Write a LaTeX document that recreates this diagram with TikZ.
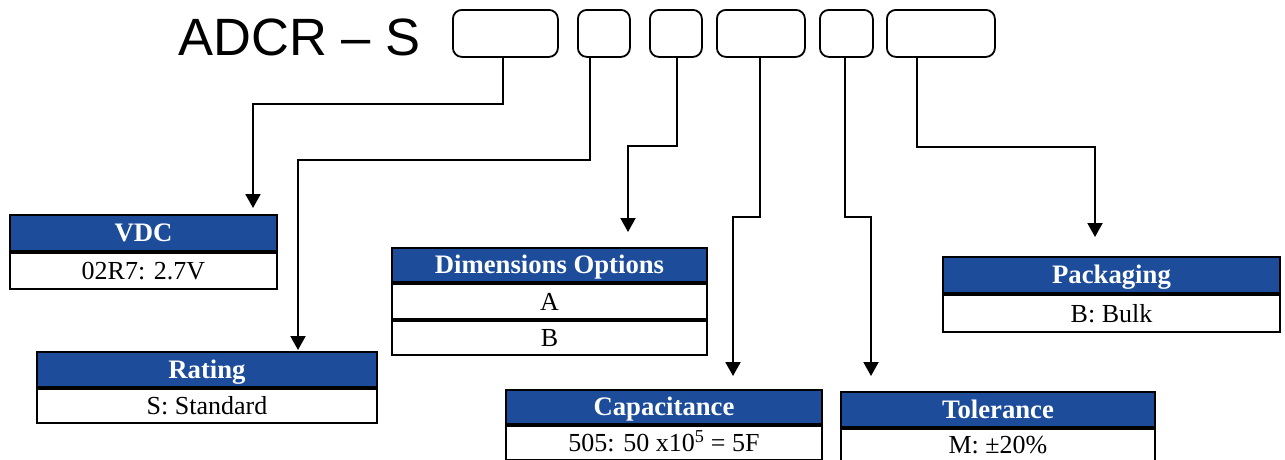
\documentclass[tikz,border=0pt]{standalone}
\usepackage{fontspec}
\setmainfont{Liberation Serif}
\newfontfamily\arialf{Liberation Sans}
\usetikzlibrary{arrows.meta}
\definecolor{hdrblue}{HTML}{1C4C9A}
\begin{document}
\begin{tikzpicture}[x=1pt,y=-1pt,
  hdr/.style={draw=black, line width=2pt, fill=hdrblue, text=white, font=\fontsize{26.7}{30}\selectfont\bfseries, inner sep=0pt, anchor=north west, text height=17pt, text depth=-1pt},
  cell/.style={draw=black, line width=2pt, fill=white, font=\fontsize{26}{30}\selectfont, inner sep=0pt, anchor=north, text height=17pt, text depth=-1pt},
  slot/.style={draw=black, line width=1.8pt, rounded corners=9pt, inner sep=0pt, anchor=north west, minimum height=47pt},
  conn/.style={line width=2pt, -{Triangle[width=15pt,length=14pt]}}]
\useasboundingbox (0,0) rectangle (1285,459);
\clip (0,0) rectangle (1285,459);

% title and slots
\node[anchor=base west, inner sep=0pt, font=\arialf\fontsize{52.5}{60}\selectfont] (title) at (178,55) {ADCR – S};
\node[slot, minimum width=105pt] (b1) at (452,9) {};
\node[slot, minimum width=52pt]  (b2) at (577,9) {};
\node[slot, minimum width=52pt]  (b3) at (649,9) {};
\node[slot, minimum width=88pt]  (b4) at (716,9) {};
\node[slot, minimum width=53pt]  (b5) at (819,9) {};
\node[slot, minimum width=108pt] (b6) at (886,9) {};

% tables
\node[hdr, minimum width=267pt, minimum height=36pt] (vdc) at (9,214) {VDC};
\node[cell, minimum width=267pt, minimum height=36pt] (vdcA) at (vdc.south) {02R7: 2.7V};

\node[hdr, minimum width=340pt, minimum height=35pt] (rat) at (36,351) {Rating};
\node[cell, minimum width=340pt, minimum height=34pt] (ratA) at (rat.south) {S: Standard};

\node[hdr, minimum width=315pt, minimum height=34pt] (dim) at (391,247) {Dimensions Options};
\node[cell, minimum width=315pt, minimum height=35pt] (dimA) at (dim.south) {A};
\node[cell, minimum width=315pt, minimum height=34pt] (dimB) at (dimA.south) {B};

\node[hdr, minimum width=316pt, minimum height=34pt] (cap) at (505,389) {Capacitance};
\node[cell, minimum width=316pt, minimum height=34pt] (capA) at (cap.south) {505: 50 x10\textsuperscript{5} = 5F};

\node[hdr, minimum width=314pt, minimum height=35pt] (tol) at (840,391) {Tolerance};
\node[cell, minimum width=314pt, minimum height=36pt, text height=17pt, text depth=5pt] (tolA) at (tol.south) {M: ±20\%};

\node[hdr, minimum width=337pt, minimum height=36pt] (pack) at (942,256) {Packaging};
\node[cell, minimum width=337pt, minimum height=37pt] (packA) at (pack.south) {B: Bulk};

% bend points
\coordinate (k1) at (253,104);
\coordinate (k2) at (298,160);
\coordinate (k3) at (628,146);
\coordinate (k4) at (733,217);
\coordinate (k5) at (871,217);
\coordinate (k6) at (1095,147);

% connectors
\draw[conn, shorten >=6pt]  ([xshift=-2.5pt]b1.south) |- (k1) -- (k1 |- vdc.north);
\draw[conn, shorten >=1pt]  ([xshift=-14pt]b2.south) |- (k2) -- (k2 |- rat.north);
\draw[conn, shorten >=15pt] ([xshift=1pt]b3.south) |- (k3) -- (k3 |- dim.north);
\draw[conn, shorten >=13pt] ([xshift=-1pt]b4.south) |- (k4) -- (k4 |- cap.north);
\draw[conn, shorten >=15pt] ([xshift=-1.5pt]b5.south) |- (k5) -- (k5 |- tol.north);
\draw[conn, shorten >=19pt] ([xshift=-24pt]b6.south) |- (k6) -- (k6 |- pack.north);
\end{tikzpicture}
\end{document}
